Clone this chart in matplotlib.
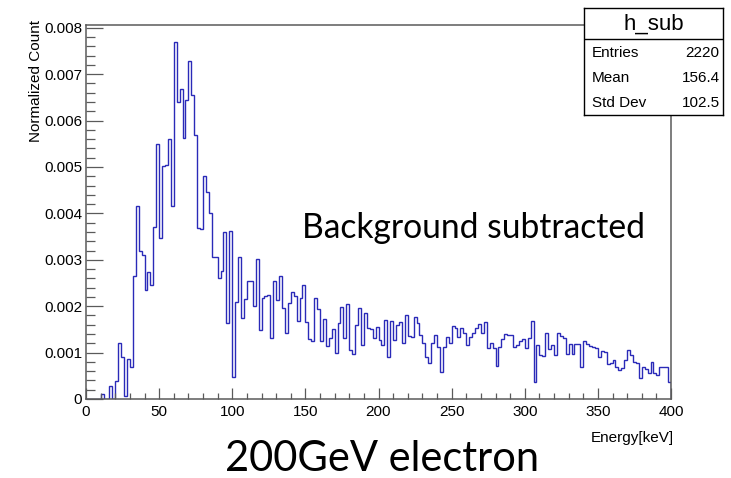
import numpy as np
import matplotlib
matplotlib.use('Agg')
import matplotlib.pyplot as plt

# # # # # # # # # # # # # # # # # # # # # # # # # # # # # # # # # # #
# histogram h_sub : 200 bins of 2 keV between 0 and 400 keV
e_lo, e_hi, n_bins = 0.0, 400.0, 200
counts = [
    0, 0, 0, 0, 0, 0.0001, 0, 0, 0.00027, 0,
    0.00038, 0.0012, 0.0009, 0.00007, 0.00086, 0.0007, 0.00264, 0.00415, 0.0032, 0.0031,
    0.00234, 0.00274, 0.00245, 0.00371, 0.0055, 0.00347, 0.00503, 0.00505, 0.0056, 0.00415,
    0.0077, 0.0064, 0.00667, 0.00562, 0.00645, 0.00729, 0.00656, 0.00568, 0.00368, 0.00366,
    0.0048, 0.00447, 0.004, 0.00306, 0.00305, 0.0026, 0.00276, 0.00359, 0.00164, 0.00363,
    0.00047, 0.0021, 0.00305, 0.00175, 0.00216, 0.00254, 0.00254, 0.002, 0.00301, 0.00148,
    0.00218, 0.00223, 0.00225, 0.00132, 0.00254, 0.00213, 0.00264, 0.00197, 0.00143, 0.00206,
    0.00231, 0.00222, 0.00168, 0.00218, 0.00245, 0.00165, 0.0013, 0.00125, 0.00218, 0.00193,
    0.00125, 0.00173, 0.00114, 0.00131, 0.00151, 0.00099, 0.00164, 0.00199, 0.00132, 0.00204,
    0.00106, 0.00097, 0.0016, 0.00196, 0.00116, 0.00186, 0.00153, 0.00151, 0.00131, 0.00155,
    0.00127, 0.00116, 0.0017, 0.0009, 0.00169, 0.00127, 0.00159, 0.00165, 0.0012, 0.00182,
    0.00136, 0.00133, 0.00177, 0.00163, 0.00138, 0.00121, 0.00091, 0.00077, 0.0012, 0.00138,
    0.00111, 0.00059, 0.00113, 0.00134, 0.0012, 0.00157, 0.00152, 0.00134, 0.00152, 0.00142,
    0.00116, 0.00134, 0.00143, 0.00152, 0.00162, 0.00142, 0.00165, 0.00109, 0.0012, 0.00109,
    0.00071, 0.00113, 0.00129, 0.0014, 0.00138, 0.00138, 0.00113, 0.00116, 0.00124, 0.00129,
    0.00109, 0.00131, 0.00169, 0.00037, 0.00116, 0.00095, 0.00093, 0.00143, 0.00107, 0.00116,
    0.00095, 0.00142, 0.00136, 0.00131, 0.00098, 0.00119, 0.00098, 0.00119, 0.00119, 0.00068,
    0.00126, 0.00119, 0.00115, 0.00113, 0.00109, 0.00091, 0.00104, 0.00102, 0.00075, 0.00077,
    0.00085, 0.0007, 0.00063, 0.00066, 0.00084, 0.00106, 0.00095, 0.0008, 0.00077, 0.00045,
    0.0007, 0.00064, 0.00055, 0.0008, 0.00055, 0.00052, 0.0007, 0.0007, 0.0007, 0.00037,
]
x_ticks = [0, 50, 100, 150, 200, 250, 300, 350, 400]
y_ticks = [0, 0.001, 0.002, 0.003, 0.004, 0.005, 0.006, 0.007, 0.008]
y_tick_labels = ['0', '0.001', '0.002', '0.003', '0.004', '0.005', '0.006', '0.007', '0.008']

hist_name = 'h_sub'
stat_names = ['Entries', 'Mean', 'Std Dev']
stat_values = ['2220', '156.4', '102.5']

x_title = 'Energy[keV]'
y_title = 'Normalized Count'
note_text = 'Background subtracted'
caption_text = '200GeV electron'

# # # # # # # # # # # # # # # # # # # # # # # # # # # # # # # # # # #
W, H = 731, 478
root_font = 'Liberation Sans'
slide_font = 'Lato'
frame_col = '#5a5a5a'
line_col = '#2a2ab8'

def fx(px):
    return px/W

def fy(py):
    return 1 - py/H

fig = plt.figure(figsize=(W/100, H/100), dpi=100)
fig.patch.set_facecolor('white')

# main frame  (pixels: x 86..671, y 25..399)
ax = fig.add_axes([fx(86), fy(399), fx(671-86), (399-25)/H])
edges = np.linspace(e_lo, e_hi, n_bins+1)
ax.stairs(counts, edges, color=line_col, linewidth=1.0, baseline=0)
ax.set_xlim(e_lo, e_hi)
ax.set_ylim(0, 0.00806)

ax.set_xticks(x_ticks)
ax.set_xticks(np.arange(0, 401, 10), minor=True)
ax.set_yticks(y_ticks)
ax.set_yticklabels(y_tick_labels)
ax.set_yticks(np.arange(0, 0.00806, 0.0002), minor=True)
ax.tick_params(axis='y', which='major', direction='in', length=12.5, width=0.9,
               color=frame_col, pad=2.8, labelsize=11)
ax.tick_params(axis='y', which='minor', direction='in', length=6.3, width=0.9, color=frame_col)
ax.tick_params(axis='x', which='major', direction='in', length=8, width=0.9,
               color=frame_col, pad=4.5, labelsize=11)
ax.tick_params(axis='x', which='minor', direction='in', length=4, width=0.9, color=frame_col)
for lab in ax.get_xticklabels() + ax.get_yticklabels():
    lab.set_fontfamily(root_font)
for sp in ax.spines.values():
    sp.set_color(frame_col)
    sp.set_linewidth(1.1)

fig.text(fx(36), fy(20), y_title, rotation=90, ha='center', va='top',
         fontsize=11, family=root_font)
fig.text(fx(674), fy(438), x_title, ha='right', va='center',
         fontsize=11, family=root_font)

# # # # # stats box
bx = fig.add_axes([fx(584), fy(115), fx(723-584), (115-8)/H])
bx.set_xlim(0, 1)
bx.set_ylim(0, 1)
bx.set_xticks([])
bx.set_yticks([])
bx.set_facecolor('white')
for sp in bx.spines.values():
    sp.set_color('black')
    sp.set_linewidth(1.0)
bx.axhline((115-39)/107, color='black', linewidth=1.0)
bx.text(0.5, (115-24)/107, hist_name, ha='center', va='center', fontsize=16, family=root_font)
row_y = [53, 78, 103]
for name, val, ry in zip(stat_names, stat_values, row_y):
    bx.text(0.058, (115-ry)/107, name, ha='left', va='center', fontsize=11, family=root_font)
    bx.text(0.975, (115-ry)/107, val, ha='right', va='center', fontsize=11, family=root_font)

# # # # # slide annotations
fig.text(fx(302), fy(238), note_text, ha='left', va='baseline', fontsize=24.2, family=slide_font)
fig.text(fx(225), fy(471), caption_text, ha='left', va='baseline', fontsize=30, family=slide_font)

fig.savefig('out.png', dpi=100)
